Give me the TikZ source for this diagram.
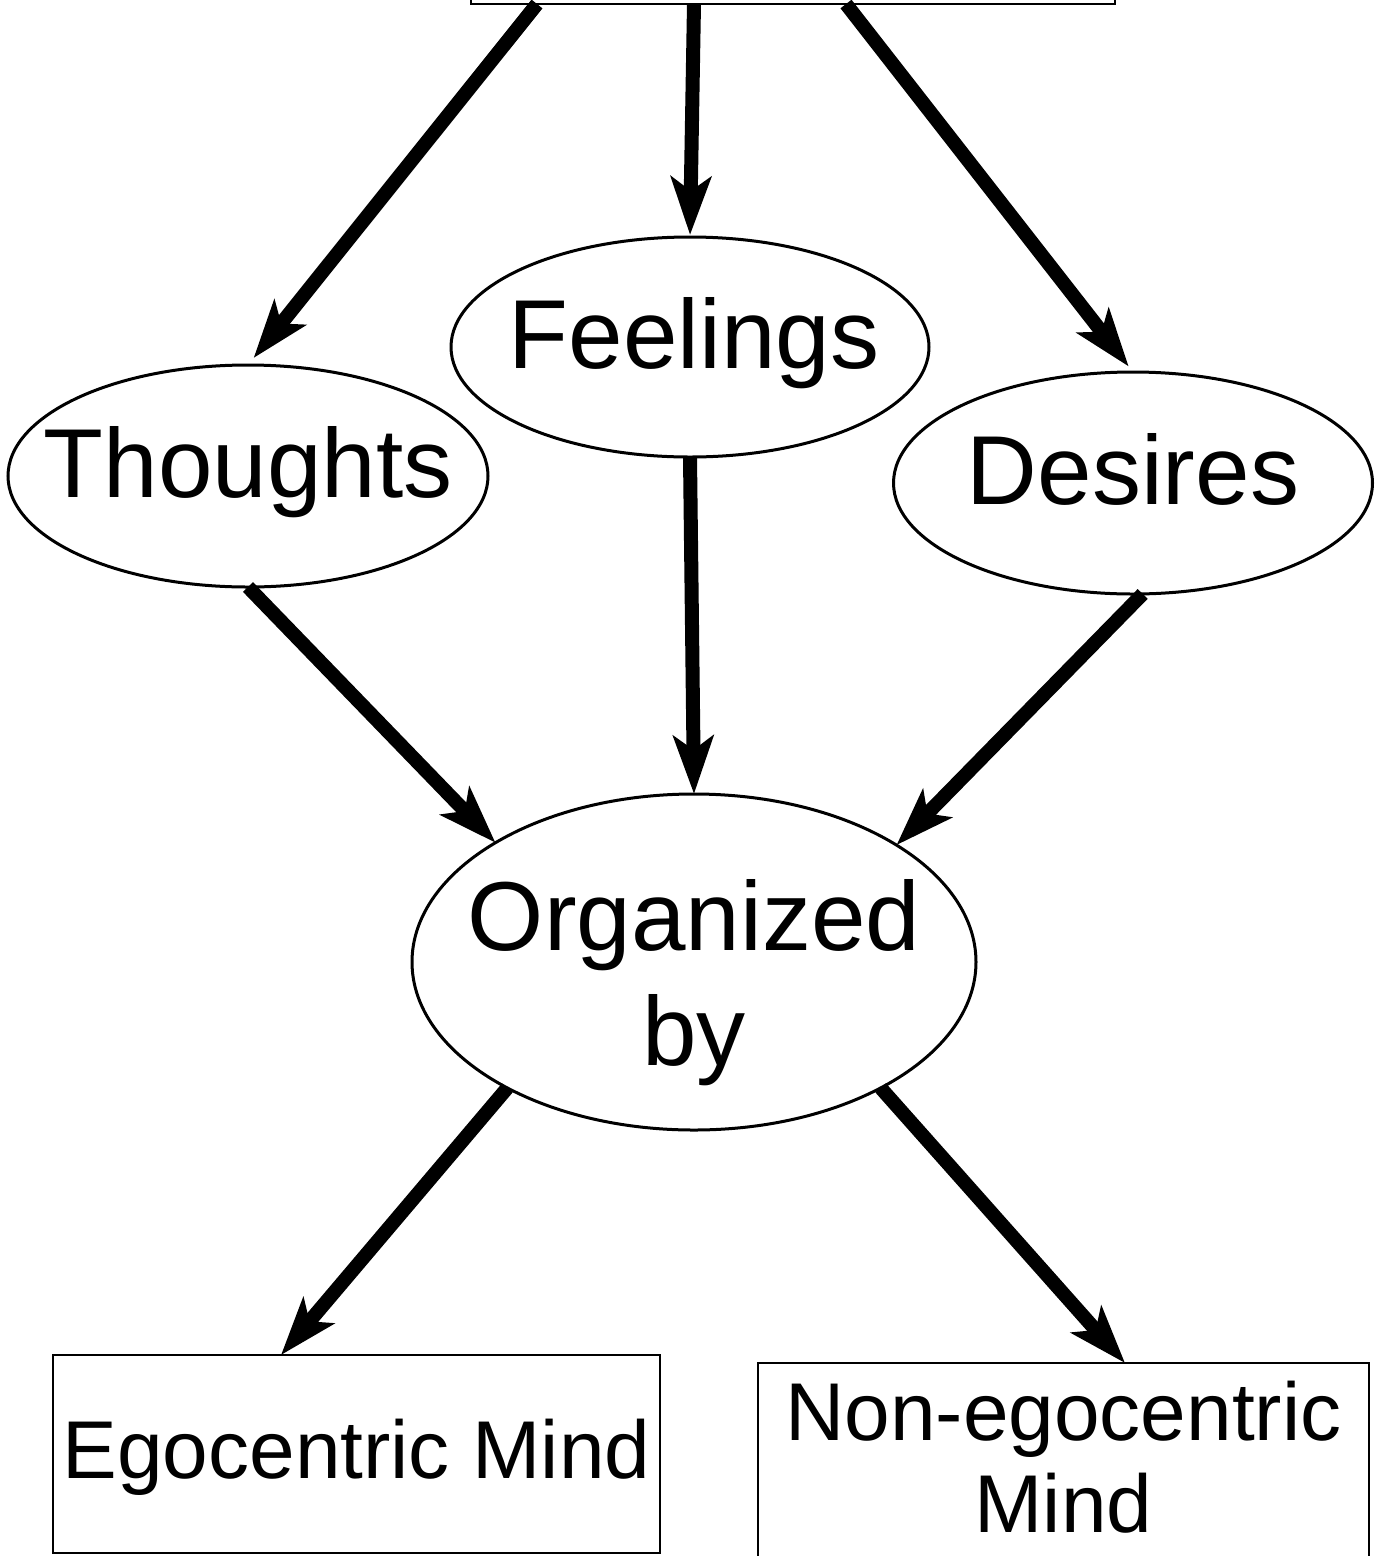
\documentclass[tikz,border=0pt]{standalone}
\usepackage{fontspec}
\setmainfont{Liberation Sans}
\usetikzlibrary{arrows.meta,shapes.geometric}
% zero-width box so that a label never widens its ellipse
\newcommand{\zw}[1]{\makebox[0pt]{#1}}
\begin{document}
\begin{tikzpicture}[x=1pt,y=-1pt,
  oval/.style={ellipse, draw, line width=3pt, inner sep=0pt, outer sep=0pt},
  box/.style={rectangle, draw, line width=2.8pt, inner sep=0pt, outer sep=0pt},
  big/.style={font=\fontsize{98}{115}\selectfont},
  mid/.style={font=\fontsize{82}{92}\selectfont},
  conn/.style={line width=14pt, -{Stealth[length=58pt,width=40pt,inset=14pt]}}]
\path[fill=white, use as bounding box] (0,0) rectangle (1382,1556);
\clip (0,0) rectangle (1382,1556);

% source box, running off the top edge
\node[box, minimum width=644pt, minimum height=200pt] (top) at (793,-96) {};
\coordinate (s1) at ([xshift=66pt]top.south west);
\coordinate (s2) at ([xshift=223pt]top.south west);
\coordinate (s3) at ([xshift=375pt]top.south west);

% the three ellipses
\node[oval, big, minimum width=480pt, minimum height=222pt,
      text height=42pt, text depth=0pt] (thoughts) at (248,476) {\zw{Thoughts}};
\node[oval, big, minimum width=478pt, minimum height=220pt,
      text height=42pt, text depth=0pt] (feelings) at (690,347) {\zw{\hspace{8pt}Feelings}};
\node[oval, big, minimum width=479pt, minimum height=222pt,
      text height=42pt, text depth=0pt] (desires) at (1133,483) {\zw{Desires}};

% central ellipse
\node[oval, big, minimum width=564pt, minimum height=336pt,
      text height=206pt, text depth=0pt] (org) at (694,962)
      {\zw{\begin{tabular}[b]{@{}c@{}}Organized\\by\end{tabular}}};

% result boxes
\node[box, mid, minimum width=607pt, minimum height=198pt,
      text height=48pt, text depth=0pt] (ego) at (356.5,1454) {Egocentric Mind};
\node[box, mid, minimum width=611pt, minimum height=194pt,
      text height=144pt, text depth=0pt] (nonego) at (1063.5,1460)
      {\begin{tabular}[b]{@{}c@{}}Non-egocentric\\Mind\end{tabular}};
\coordinate (e1) at ([xshift=228pt]ego.north west);
\coordinate (e2) at ([xshift=367pt]nonego.north west);

% connectors
\draw[conn, shorten >=9pt] (s1) -- (thoughts.north);
\draw[conn, shorten >=2pt] (s2) -- (feelings.north);
\draw[conn, shorten >=7pt] (s3) -- (desires.north);
\draw[conn] (thoughts.south) -- (org.149.5);
\draw[conn] (feelings.south) -- (org.north);
\draw[conn] (desires.-85) -- (org.30.2);
\draw[conn] (org.214.3) -- (e1);
\draw[conn] (org.-34.3) -- (e2);
\end{tikzpicture}
\end{document}
